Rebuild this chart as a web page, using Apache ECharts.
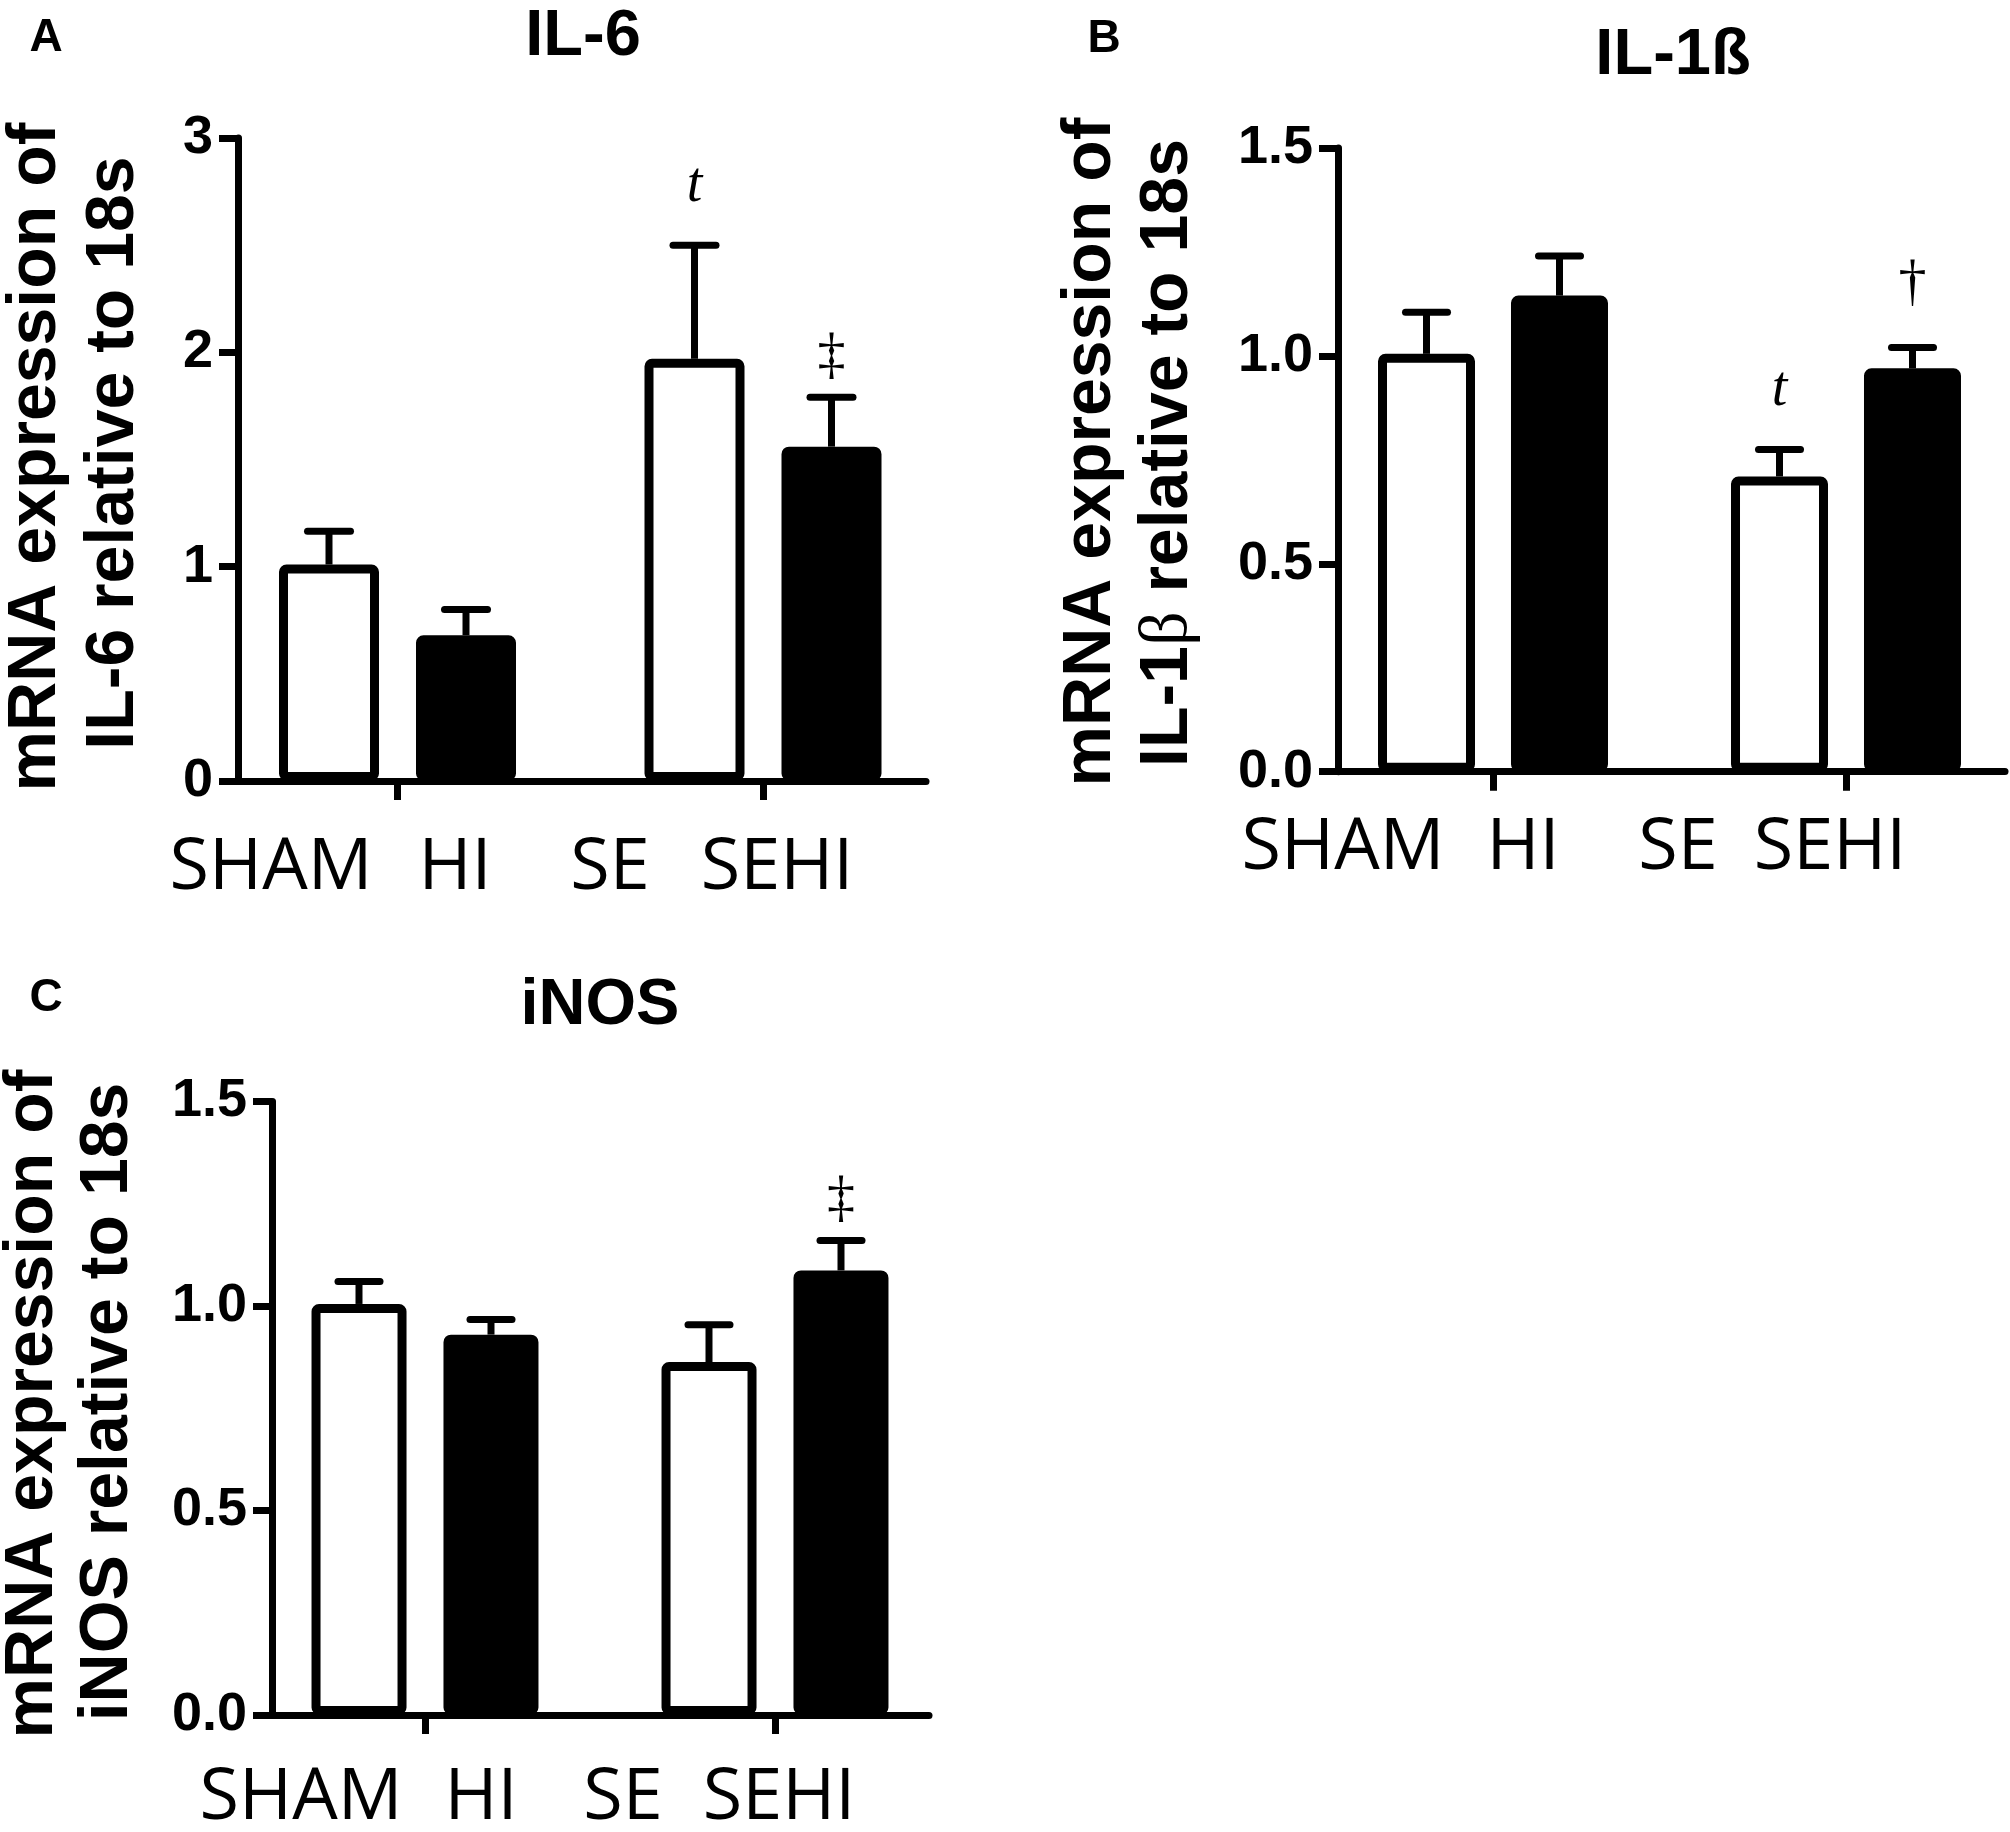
<!DOCTYPE html>
<html>
<head>
<meta charset="utf-8">
<script src="https://cdn.jsdelivr.net/npm/echarts@6/dist/echarts.min.js"></script>
<style>
html,body{margin:0;padding:0;background:#ffffff;}
#c{width:2010px;height:1832px;}
</style>
</head>
<body>
<div id="c"></div>
<script>
// ---------------- DATA ----------------
const groups = ['SHAM/HI', 'SE/SEHI'];
const xLabels = ['SHAM', 'HI', 'SE', 'SEHI'];

// order: SHAM, HI, SE, SEHI
const il6Mean  = [1.01, 0.68, 1.97, 1.56];
const il6Sem   = [0.155, 0.12, 0.53, 0.23];
const il6Marks = ['', '', 't', '‡'];
const il6Ticks = ['0', '1', '2', '3'];

const il1bMean  = [1.005, 1.145, 0.71, 0.97];
const il1bSem   = [0.10, 0.095, 0.065, 0.05];
const il1bMarks = ['', '', 't', '†'];
const il1bTicks = ['0.0', '0.5', '1.0', '1.5'];

const inosMean  = [1.005, 0.93, 0.863, 1.087];
const inosSem   = [0.055, 0.037, 0.091, 0.073];
const inosMarks = ['', '', '', '‡'];
const inosTicks = ['0.0', '0.5', '1.0', '1.5'];

// ---------------- LAYOUT / STYLE ----------------
const BLACK = '#000000';
const panels = [
  { letter: 'A', title: 'IL-6', yl1: 'mRNA expression of', yl2: ['IL-6', ' relative to 18s'],
    mean: il6Mean, sem: il6Sem, marks: il6Marks, ticks: il6Ticks, max: 3, interval: 1,
    L: { axisX: 238, endX: 926, topY: 138, zeroY: 781, g1: 397.5, g2: 763, off: 68.5, barW: 100, capW: 50,
         labelX: [271, 455, 610, 777], labelBase: 892,
         letterPos: [46, 38], titlePos: [583, 37], yl1Pos: [36, 457], yl2Pos: [114, 453] } },
  { letter: 'B', title: 'IL-1ß', yl1: 'mRNA expression of', yl2: ['IL-1', 'β', ' relative to 18s'],
    mean: il1bMean, sem: il1bSem, marks: il1bMarks, ticks: il1bTicks, max: 1.5, interval: 0.5,
    L: { axisX: 1338, endX: 2005, topY: 148, zeroY: 771.7, g1: 1493, g2: 1846, off: 66.5, barW: 97, capW: 49,
         labelX: [1343, 1523, 1678, 1830], labelBase: 872,
         letterPos: [1104, 39], titlePos: [1673, 56], yl1Pos: [1091, 452], yl2Pos: [1168, 453] } },
  { letter: 'C', title: 'iNOS', yl1: 'mRNA expression of', yl2: ['iNOS', ' relative to 18s'],
    mean: inosMean, sem: inosSem, marks: inosMarks, ticks: inosTicks, max: 1.5, interval: 0.5,
    L: { axisX: 272, endX: 929, topY: 1101.5, zeroY: 1715, g1: 425, g2: 775, off: 66, barW: 95, capW: 49,
         labelX: [301, 481, 623, 779], labelBase: 1822,
         letterPos: [46, 998], titlePos: [600, 1006], yl1Pos: [33, 1404], yl2Pos: [108, 1402] } }
];

const MARK_GAP = { 't': 59, '†': 63, '‡': 40 };
const MARK_FONT = {
  't': 'italic 56px "Liberation Serif", "DejaVu Serif", serif',
  '†': '56px "Liberation Serif", "DejaVu Serif", serif',
  '‡': '56px "Liberation Serif", "DejaVu Serif", serif'
};

function errRender(side, off, capW, marks) {
  return function (params, api) {
    const i = api.value(0), m = api.value(1), e = api.value(2);
    const b = api.coord([i, m]);
    const t = api.coord([i, m + e]);
    const x = b[0] + side * off;
    const children = [
      { type: 'line', shape: { x1: x, y1: b[1], x2: x, y2: t[1] },
        style: { stroke: BLACK, lineWidth: 7 } },
      { type: 'line', shape: { x1: x - capW / 2 + 3.5, y1: t[1], x2: x + capW / 2 - 3.5, y2: t[1] },
        style: { stroke: BLACK, lineWidth: 7, lineCap: 'round' } }
    ];
    const mk = marks[params.dataIndex];
    if (mk) {
      children.push({ type: 'text', x: x, y: t[1] - MARK_GAP[mk],
        style: { text: mk, font: MARK_FONT[mk], fill: BLACK, align: 'center', verticalAlign: 'middle' } });
    }
    return { type: 'group', children: children };
  };
}

const grid = [], xAxis = [], yAxis = [], series = [], graphic = [];
const SANS = '"Liberation Sans", Arial, sans-serif';

panels.forEach(function (p, k) {
  const L = p.L;
  const band = L.g2 - L.g1;
  const gapPct = ((2 * L.off - L.barW) / L.barW * 100).toFixed(1) + '%';
  const h = L.zeroY - L.topY;
  const fi = 2 * k, di = 2 * k + 1;

  grid.push({ left: L.axisX, top: L.topY, width: L.endX - L.axisX, height: h, containLabel: false, outerBoundsMode: 'none' });
  grid.push({ left: L.g1 - band / 2, top: L.topY, width: 2 * band, height: h, containLabel: false, outerBoundsMode: 'none' });

  xAxis.push({ gridIndex: fi, type: 'value', min: 0, max: 1,
    axisLine: { show: true, lineStyle: { color: BLACK, width: 7 } },
    axisTick: { show: false }, axisLabel: { show: false }, splitLine: { show: false } });
  xAxis.push({ gridIndex: di, type: 'category', data: groups, boundaryGap: true,
    axisLine: { show: false },
    axisTick: { show: true, alignWithLabel: true, length: 19, lineStyle: { color: BLACK, width: 7 } },
    axisLabel: { show: false }, splitLine: { show: false } });

  yAxis.push({ gridIndex: fi, type: 'value', min: 0, max: p.max, interval: p.interval,
    axisLine: { show: true, lineStyle: { color: BLACK, width: 7 } },
    axisTick: { show: true, length: 19, lineStyle: { color: BLACK, width: 7 } },
    axisLabel: { show: true, margin: 25, color: BLACK, fontFamily: SANS, fontWeight: 'bold', fontSize: 54,
      formatter: function (v) { return p.ticks[Math.round(v / p.interval)]; } },
    splitLine: { show: false } });
  yAxis.push({ gridIndex: di, type: 'value', min: 0, max: p.max, show: false });

  series.push({ type: 'bar', name: p.title + ' white', xAxisIndex: di, yAxisIndex: di,
    data: [p.mean[0], p.mean[2]], barWidth: L.barW, barGap: gapPct, z: 2, silent: true,
    itemStyle: { color: '#ffffff', borderColor: BLACK, borderWidth: 9, borderRadius: 3 } });
  series.push({ type: 'bar', name: p.title + ' black', xAxisIndex: di, yAxisIndex: di,
    data: [p.mean[1], p.mean[3]], barWidth: L.barW, barGap: gapPct, z: 2, silent: true,
    itemStyle: { color: BLACK, borderColor: BLACK, borderWidth: 9, borderRadius: 3 } });

  series.push({ type: 'custom', xAxisIndex: di, yAxisIndex: di, z: 5, silent: true,
    renderItem: errRender(-1, L.off, L.capW, [p.marks[0], p.marks[2]]),
    data: [[0, p.mean[0], p.sem[0]], [1, p.mean[2], p.sem[2]]] });
  series.push({ type: 'custom', xAxisIndex: di, yAxisIndex: di, z: 5, silent: true,
    renderItem: errRender(1, L.off, L.capW, [p.marks[1], p.marks[3]]),
    data: [[0, p.mean[1], p.sem[1]], [1, p.mean[3], p.sem[3]]] });

  // category labels
  L.labelX.forEach(function (x, j) {
    graphic.push({ type: 'text', x: x, y: L.labelBase - 24, silent: true,
      style: { text: xLabels[j], font: '72px "Open Sans", "Noto Sans", sans-serif', fill: BLACK,
               align: 'center', verticalAlign: 'middle' } });
  });
  // panel letter
  graphic.push({ type: 'text', x: L.letterPos[0], y: L.letterPos[1], silent: true,
    style: { text: p.letter, font: 'bold 46px ' + SANS, fill: BLACK, align: 'center', verticalAlign: 'middle' } });
  // title
  graphic.push({ type: 'text', x: L.titlePos[0], y: L.titlePos[1], silent: true,
    style: { text: p.title, font: 'bold 65px ' + SANS, fill: BLACK, align: 'center', verticalAlign: 'middle' } });
  // y-axis titles (rotated)
  graphic.push({ type: 'text', x: L.yl1Pos[0], y: L.yl1Pos[1], rotation: Math.PI / 2, silent: true,
    style: { text: p.yl1, font: 'bold 68px ' + SANS, fill: BLACK, align: 'center', verticalAlign: 'middle' } });
  let richText;
  if (p.yl2.length === 3) {
    richText = '{a|' + p.yl2[0] + '}{b|' + p.yl2[1] + '}{a|' + p.yl2[2] + '}';
  } else {
    richText = '{a|' + p.yl2[0] + p.yl2[1] + '}';
  }
  const rich = {
    a: { fontFamily: SANS, fontWeight: 'bold', fontSize: 68, fill: BLACK },
    b: { fontFamily: '"Liberation Serif", "DejaVu Serif", serif', fontWeight: 'normal', fontSize: 68, fill: BLACK }
  };
  graphic.push({ type: 'text', x: L.yl2Pos[0], y: L.yl2Pos[1], rotation: Math.PI / 2, silent: true,
    style: { text: richText, rich: rich, fill: BLACK, align: 'center', verticalAlign: 'middle' } });
});

const chart = echarts.init(document.getElementById('c'), null, { renderer: 'canvas', width: 2010, height: 1832 });
chart.setOption({
  backgroundColor: '#ffffff',
  animation: false,
  grid: grid,
  xAxis: xAxis,
  yAxis: yAxis,
  series: series,
  graphic: { elements: graphic }
});
</script>
</body>
</html>
